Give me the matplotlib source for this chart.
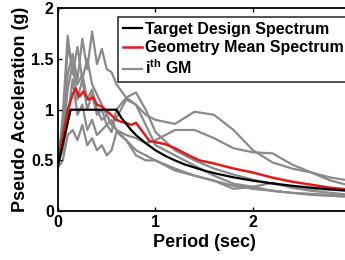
import matplotlib
matplotlib.use("Agg")
import matplotlib.pyplot as plt

plt.rcParams['font.family'] = ['Liberation Sans', 'DejaVu Sans']
plt.rcParams['font.weight'] = 'bold'
plt.rcParams['mathtext.fontset'] = 'custom'
plt.rcParams['mathtext.bf'] = 'Liberation Sans:bold'
plt.rcParams['mathtext.rm'] = 'Liberation Sans:bold'

# Periods for individual ground motions
T_gm = [0, .05, .1, .15, .2, .25, .3, .35, .4, .45, .5, .55, .6, .7, .8, .9,
        1.0, 1.2, 1.4, 1.6, 1.8, 2.0, 2.2, 2.4, 2.6, 2.8, 3.0]
gm1 = [0.45, 0.95, 1.73, 1.35, 1.62, 1.30, 1.50, 1.25, 1.15, 1.05, 0.95, 0.85, 0.80, 0.70, 0.60, 0.55,
       0.50, 0.42, 0.35, 0.30, 0.25, 0.22, 0.20, 0.18, 0.17, 0.16, 0.15]
gm2 = [0.50, 0.80, 1.35, 1.55, 1.30, 1.70, 1.40, 1.77, 1.45, 1.60, 1.40, 1.37, 1.25, 1.12, 1.17, 1.00,
       0.78, 0.60, 0.50, 0.42, 0.36, 0.31, 0.27, 0.24, 0.22, 0.21, 0.20]
gm3 = [0.48, 0.85, 1.60, 1.45, 1.25, 1.35, 1.10, 1.20, 1.00, 0.90, 0.95, 0.85, 0.92, 1.10, 1.05, 0.95,
       0.90, 0.86, 0.98, 0.95, 0.80, 0.60, 0.48, 0.42, 0.38, 0.30, 0.25]
gm4 = [0.45, 0.70, 1.20, 1.45, 1.10, 1.30, 1.00, 1.15, 0.95, 1.00, 0.85, 0.90, 0.80, 0.75, 0.72, 0.67,
       0.70, 0.80, 0.80, 0.72, 0.62, 0.58, 0.57, 0.46, 0.38, 0.33, 0.30]
gm5 = [0.47, 0.60, 0.90, 1.30, 0.95, 1.05, 0.80, 0.90, 0.75, 0.80, 0.85, 0.78, 1.00, 1.12, 1.05, 0.85,
       0.65, 0.55, 0.45, 0.35, 0.27, 0.24, 0.28, 0.23, 0.20, 0.18, 0.16]
gm6 = [0.43, 0.50, 0.75, 0.80, 0.70, 0.85, 0.65, 0.72, 0.60, 0.65, 0.55, 0.60, 0.78, 0.70, 0.55, 0.50,
       0.50, 0.40, 0.35, 0.30, 0.22, 0.24, 0.20, 0.18, 0.16, 0.15, 0.14]
gm_list = [gm1, gm2, gm3, gm4, gm5, gm6]

# Geometric mean spectrum
T_mean = [0, .05, .1, .15, .18, .22, .26, .31, .36, .4, .45, .52, .6, .65, .7, .75, .8, .87, .94,
          1.0, 1.1, 1.2, 1.32, 1.45, 1.6, 1.8, 2.0, 2.2, 2.4, 2.6, 2.8, 3.0]
sa_mean = [0.50, 0.75, 1.00, 1.15, 1.21, 1.13, 1.18, 1.10, 1.12, 1.05, 1.03, 0.97, 0.90, 0.88, 0.87,
           0.85, 0.87, 0.78, 0.69, 0.68, 0.66, 0.62, 0.56, 0.50, 0.47, 0.42, 0.38, 0.33, 0.29, 0.26,
           0.23, 0.21]

# Target design spectrum
T_target = [0, 0.13, 0.6, 0.65, 0.7, 0.75, 0.8, 0.85, 0.9, 1.0, 1.1, 1.2, 1.3, 1.4, 1.5, 1.6, 1.8,
            2.0, 2.2, 2.4, 2.6, 2.8, 3.0]
sa_target = [0.45, 1.0, 1.0, 0.92, 0.86, 0.80, 0.75, 0.71, 0.67, 0.60, 0.545, 0.50, 0.46, 0.43, 0.40,
             0.375, 0.333, 0.30, 0.273, 0.25, 0.231, 0.214, 0.20]

labels = ["Target Design Spectrum", "Geometry Mean Spectrum", "i$^{\\mathbf{th}}$ GM"]
xtick_vals = [0, 1, 2, 3]
xtick_labels = ['0', '1', '2', '3']
ytick_vals = [0, 0.5, 1, 1.5, 2]
ytick_labels = ['0', '0.5', '1', '1.5', '2']

fig = plt.figure(figsize=(3.45, 2.6), dpi=100)
ax = fig.add_axes([0.168, 0.188, 0.848, 0.780])

gray = '#8a8a8a'
for i, g in enumerate(gm_list):
    ax.plot(T_gm, g, color=gray, lw=1.6, label=labels[2] if i == 0 else None, zorder=1)
ax.plot(T_target, sa_target, color='black', lw=1.6, label=labels[0], zorder=3)
ax.plot(T_mean, sa_mean, color='#dd1c1c', lw=1.8, label=labels[1], zorder=2)

ax.set_xlim(0, 3)
ax.set_ylim(0, 2)
ax.set_xticks(xtick_vals)
ax.set_yticks(ytick_vals)
ax.set_xticklabels(xtick_labels)
ax.set_yticklabels(ytick_labels)
ax.tick_params(direction='in', top=True, right=True, labelsize=11.5, length=3, width=1, pad=3)
for s in ax.spines.values():
    s.set_linewidth(1.3)
ax.set_xlabel('Period (sec)', fontsize=13, fontweight='bold', labelpad=3)
ax.set_ylabel('Pseudo Acceleration (g)', fontsize=13, fontweight='bold', labelpad=2)

h, l = ax.get_legend_handles_labels()
order = [l.index(labels[0]), l.index(labels[1]), l.index(labels[2])]
leg = ax.legend([h[i] for i in order], [l[i] for i in order], loc='upper left',
                bbox_to_anchor=(0.205, 0.956), fontsize=11.5, frameon=True, fancybox=False,
                edgecolor='black', handlelength=1.2, handletextpad=0.2, labelspacing=0.2,
                borderpad=0.3, borderaxespad=0)
leg.get_frame().set_linewidth(1.2)
for t in leg.get_texts():
    t.set_fontweight('bold')

fig.savefig('out.png', dpi=100, facecolor='white')
